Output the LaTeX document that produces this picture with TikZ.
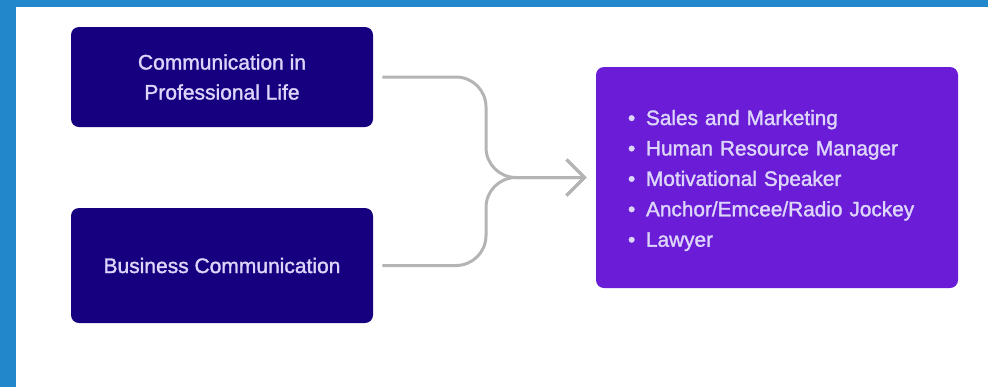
\documentclass[tikz,border=0pt]{standalone}
\usepackage{fontspec}
\setmainfont{Liberation Sans}[FakeBold=1.5]
\definecolor{navyT}{HTML}{16007F}
\definecolor{violetT}{HTML}{6A1CD6}
\definecolor{paleT}{HTML}{DDD6FA}
\definecolor{greyT}{HTML}{B4B4B4}
\definecolor{frameT}{HTML}{2387CB}
\usetikzlibrary{arrows.meta,shapes.geometric}

\begin{document}
\begin{tikzpicture}[x=1pt,y=1pt,
	topicBox/.style={rectangle,rounded corners=4pt,fill=navyT,text=paleT,align=center,
		minimum width=151pt,font=\fontsize{10.5}{15}\selectfont},
	listBox/.style={rectangle,rounded corners=4pt,fill=violetT,text=paleT,align=left,
		inner xsep=16pt,text width=149pt,minimum height=110.5pt,font=\fontsize{10.4}{15.2}\selectfont},
	connection/.style={draw=greyT,line width=1.5pt,rounded corners=15pt,
		shorten <=4.5pt,shorten >=4.5pt,-{Straight Barb[length=9pt,width=18pt]}},
]

	\def\lft{111};
	\def\rgt{388.5};

	% frame
	\useasboundingbox (0,0) rectangle (494,-193.5);
	\fill[frameT] (0,0) rectangle (8,-193.5);
	\fill[frameT] (0,0) rectangle (494,-3.5);

	\node[topicBox,minimum height=50pt](prof) at(\lft,-38.5){Communication in\\Professional Life};
	\node[topicBox,minimum height=57.5pt](biz) at(\lft,-132.75){Business Communication};
	\node[listBox](jobs) at(\rgt,-88.75){%
		\rule{0pt}{10.5pt}\makebox[9pt][l]{\textbullet}Sales and Marketing\\
		\makebox[9pt][l]{\textbullet}Human Resource Manager\\
		\makebox[9pt][l]{\textbullet}Motivational Speaker\\
		\makebox[9pt][l]{\textbullet}Anchor/Emcee/Radio Jockey\\
		\makebox[9pt][l]{\textbullet}Lawyer};

	\coordinate(join) at(243,-88.75);

	\draw[connection](prof.east) -| (join) -- (jobs.west);
	\draw[connection](biz.east) -| (join) -- (jobs.west);

\end{tikzpicture}
\end{document}
